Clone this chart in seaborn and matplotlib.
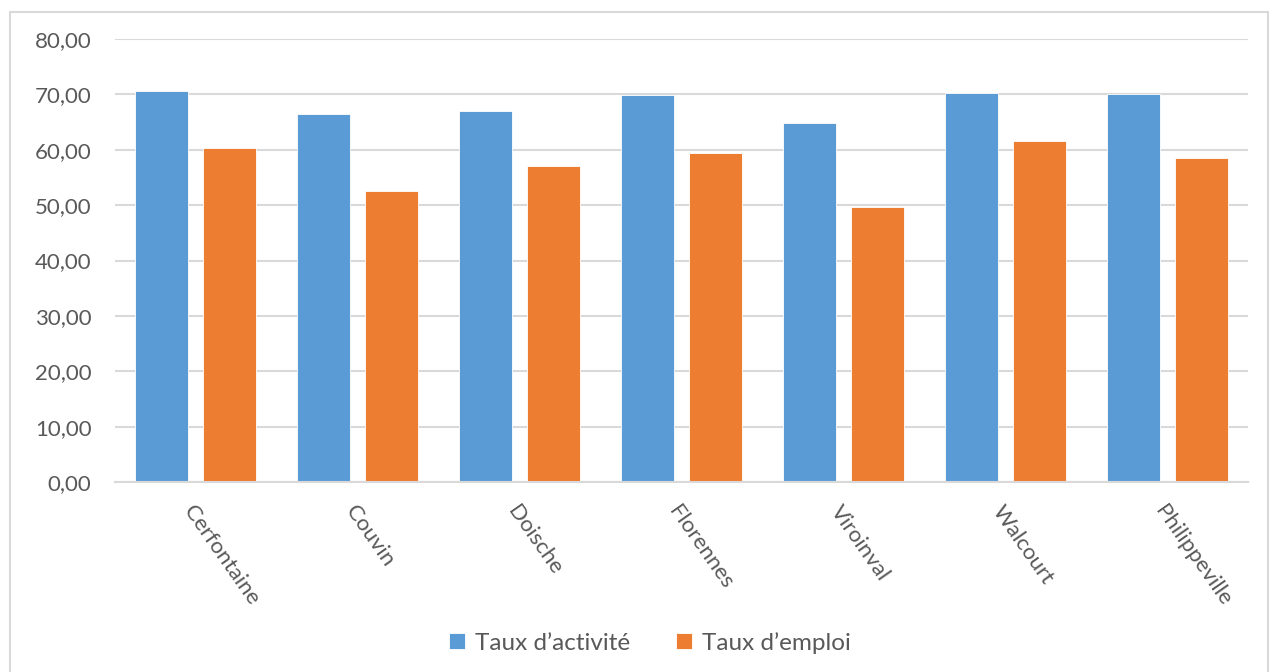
import pandas as pd
import numpy as np
import seaborn as sns
import matplotlib.pyplot as plt
from matplotlib.patches import Rectangle
from matplotlib.ticker import FuncFormatter

communes = ["Cerfontaine", "Couvin", "Doische", "Florennes", "Viroinval", "Walcourt", "Philippeville"]
taux_activite = [70.6, 66.5, 67.0, 69.9, 64.8, 70.2, 70.1]
taux_emploi = [60.3, 52.5, 57.0, 59.4, 49.7, 61.6, 58.5]
series = ["Taux d\u2019activit\u00e9", "Taux d\u2019emploi"]

df = pd.DataFrame({
    "commune": communes * 2,
    "taux": taux_activite + taux_emploi,
    "serie": [series[0]] * len(communes) + [series[1]] * len(communes),
})

sns.set_style("white")
plt.rcParams["font.family"] = ["Lato", "DejaVu Sans"]

fig = plt.figure(figsize=(12.71, 6.72), dpi=100)
ax = fig.add_axes([115 / 1271, 1 - 482 / 672, (1248 - 115) / 1271, (482 - 39) / 672])

sns.barplot(data=df, x="commune", y="taux", hue="serie", palette=["#5B9BD5", "#ED7D31"], saturation=1,
            width=0.84, gap=0.22, edgecolor="#FFFFFF", linewidth=0.6, ax=ax, legend=True)

ax.set_ylim(0, 80)
ax.set_yticks(np.arange(0, 81, 10))
ax.yaxis.set_major_formatter(FuncFormatter(lambda v, p: f"{v:.2f}".replace(".", ",")))
ax.grid(axis="y", color="#D9D9D9", linewidth=1.5)
ax.set_axisbelow(True)
for s in ["top", "right", "left"]:
    ax.spines[s].set_visible(False)
ax.spines["bottom"].set_color("#D9D9D9")
ax.spines["bottom"].set_linewidth(1.5)
ax.set_xlabel("")
ax.set_ylabel("")
ax.tick_params(axis="y", length=0, pad=17, labelsize=16, labelcolor="#595959")
ax.tick_params(axis="x", length=0, pad=14, labelsize=16, labelcolor="#595959")
for lab in ax.get_xticklabels():
    lab.set_rotation(-55)
    lab.set_ha("left")
    lab.set_va("top")
    lab.set_rotation_mode("anchor")

ax.get_legend().remove()
handles, labels = ax.get_legend_handles_labels()
fig.legend(handles, labels, loc="center", bbox_to_anchor=(650 / 1271, 1 - 643 / 672), ncol=2,
           frameon=False, handlelength=0.65, handleheight=0.65, handletextpad=0.4, columnspacing=1.9,
           fontsize=17.5, labelcolor="#595959")

fig.patches.append(Rectangle((10 / 1271, -0.01), (1268 - 10) / 1271, 1 - 12 / 672 + 0.01,
                             transform=fig.transFigure, fill=False, edgecolor="#D9D9D9", linewidth=1.5))

fig.savefig("out.png", dpi=100)
